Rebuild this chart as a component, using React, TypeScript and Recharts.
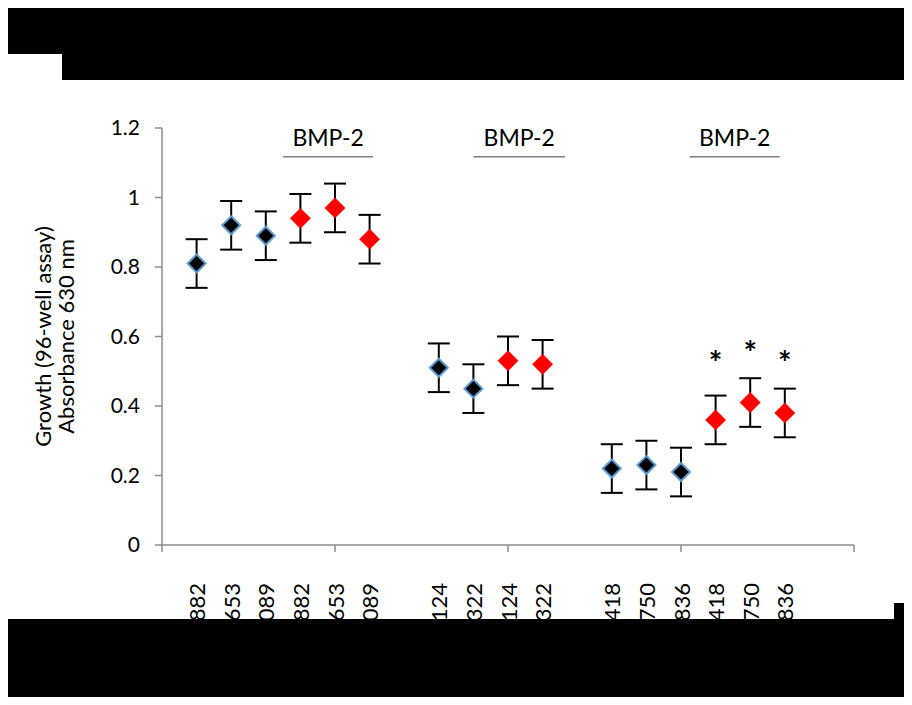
import React from "react";
import { ScatterChart, Scatter, XAxis, YAxis, ErrorBar, ReferenceLine, Label } from "recharts";

// slot index on the category axis (21 slots, Excel "on tick marks")
const slotLabels = ["", "882", "653", "089", "882", "653", "089", "", "124", "322", "124", "322", "", "418", "750", "836", "418", "750", "836", "", ""];
const slotTicks = slotLabels.map((_, i) => i);

const controlSlots = [1, 2, 3, 8, 9, 13, 14, 15];
const controlValues = [0.81, 0.92, 0.89, 0.51, 0.45, 0.22, 0.23, 0.21];
const controlErrors = [0.07, 0.07, 0.07, 0.07, 0.07, 0.07, 0.07, 0.07];

const bmpSlots = [4, 5, 6, 10, 11, 16, 17, 18];
const bmpValues = [0.94, 0.97, 0.88, 0.53, 0.52, 0.36, 0.41, 0.38];
const bmpErrors = [0.07, 0.07, 0.07, 0.07, 0.07, 0.07, 0.07, 0.07];

const starSlots = [16, 17, 18];
const starLevels = [0.54, 0.57, 0.54];

const bracketFrom = [3.5, 9.0, 15.25];
const bracketTo = [6.1, 11.65, 17.85];
const bracketLevel = 1.117;

const yTicks = [0, 0.2, 0.4, 0.6, 0.8, 1, 1.2];

const controlData = controlSlots.map((s, i) => ({ slot: s, value: controlValues[i], err: controlErrors[i] }));
const bmpData = bmpSlots.map((s, i) => ({ slot: s, value: bmpValues[i], err: bmpErrors[i] }));
const starData = starSlots.map((s, i) => ({ slot: s, value: starLevels[i] }));

const FONT = "Lato, 'Open Sans', sans-serif";
const AXIS = "#8c8c8c";

const diamond = (fill: string, stroke: string) => (props: any) => {
  const { cx, cy } = props;
  if (cx == null || cy == null) return null;
  const r = 9;
  return (
    <path
      d={`M${cx},${cy - r} L${cx + r},${cy} L${cx},${cy + r} L${cx - r},${cy} Z`}
      fill={fill}
      stroke={stroke}
      strokeWidth={2}
    />
  );
};

const StarShape = (props: any) => {
  const { cx, cy } = props;
  return (
    <text x={cx} y={cy + 18} textAnchor="middle" fontSize={32} fontWeight={700} fill="#000" fontFamily={FONT}>
      *
    </text>
  );
};

const SlotTick = (props: any) => {
  const { x, y, payload } = props;
  const i = payload.value;
  const label = slotLabels[i];
  const ty = y + 31;
  return (
    <g>
      {i % 5 === 0 && <line x1={x} x2={x} y1={y - 7} y2={y} stroke={AXIS} strokeWidth={1.5} />}
      {label && (
        <text
          x={x}
          y={ty}
          transform={`rotate(-90, ${x}, ${ty})`}
          textAnchor="end"
          dominantBaseline="central"
          fontSize={22}
          fill="#000"
          fontFamily={FONT}
        >
          {label}
        </text>
      )}
    </g>
  );
};

const YTitle = (props: any) => {
  const { viewBox } = props;
  const cy = viewBox.y + viewBox.height / 2;
  const x1 = viewBox.x - 20;
  const x2 = viewBox.x + 3;
  return (
    <g fontFamily={FONT} fontSize={22} fill="#000">
      <text x={x1} y={cy} transform={`rotate(-90, ${x1}, ${cy})`} textAnchor="middle" dominantBaseline="central">
        Growth (96-well assay)
      </text>
      <text x={x2} y={cy} transform={`rotate(-90, ${x2}, ${cy})`} textAnchor="middle" dominantBaseline="central">
        Absorbance 630 nm
      </text>
    </g>
  );
};

const blocks = [
  { left: 0, top: 0, width: 912, height: 54 },
  { left: 62, top: 54, width: 850, height: 26 },
  { left: 0, top: 0, width: 8, height: 705 },
  { left: 0, top: 619, width: 912, height: 86 },
  { left: 894, top: 603, width: 18, height: 102 },
];

export default function App() {
  return (
    <div style={{ position: "relative", width: 912, height: 705, margin: -8, background: "#fff", fontFamily: FONT }}>
      <ScatterChart width={912} height={705} margin={{ top: 128, right: 58, bottom: 60, left: 62 }}>
        <XAxis
          type="number"
          dataKey="slot"
          domain={[0, 20]}
          ticks={slotTicks}
          interval={0}
          tick={<SlotTick />}
          tickLine={false}
          tickSize={7}
          tickMargin={0}
          axisLine={{ stroke: AXIS, strokeWidth: 1.5 }}
          height={100}
          allowDecimals
        />
        <YAxis
          type="number"
          dataKey="value"
          domain={[0, 1.2]}
          ticks={yTicks}
          width={100}
          tickSize={7}
          tickMargin={15}
          tickLine={{ stroke: AXIS, strokeWidth: 1.5 }}
          axisLine={{ stroke: AXIS, strokeWidth: 1.5 }}
          tick={{ fill: "#000", fontSize: 21, fontFamily: FONT }}
        >
          <Label content={<YTitle />} />
        </YAxis>
        {bracketFrom.map((f, i) => (
          <ReferenceLine
            key={i}
            segment={[
              { x: f, y: bracketLevel },
              { x: bracketTo[i], y: bracketLevel },
            ]}
            stroke="#7f7f7f"
            strokeWidth={1.5}
            label={{ value: "BMP-2", position: "top", offset: 11, fill: "#000", fontSize: 23, fontFamily: FONT }}
          />
        ))}
        <Scatter data={controlData} dataKey="value" shape={diamond("#000", "#5b9bd5")} isAnimationActive={false}>
          <ErrorBar dataKey="err" direction="y" width={11} stroke="#000" strokeWidth={2} />
        </Scatter>
        <Scatter data={bmpData} dataKey="value" shape={diamond("#ff0000", "#ff0000")} isAnimationActive={false}>
          <ErrorBar dataKey="err" direction="y" width={11} stroke="#000" strokeWidth={2} />
        </Scatter>
        <Scatter data={starData} dataKey="value" shape={<StarShape />} isAnimationActive={false} />
      </ScatterChart>
      {blocks.map((b, i) => (
        <div key={i} style={{ position: "absolute", background: "#000", ...b }} />
      ))}
    </div>
  );
}
